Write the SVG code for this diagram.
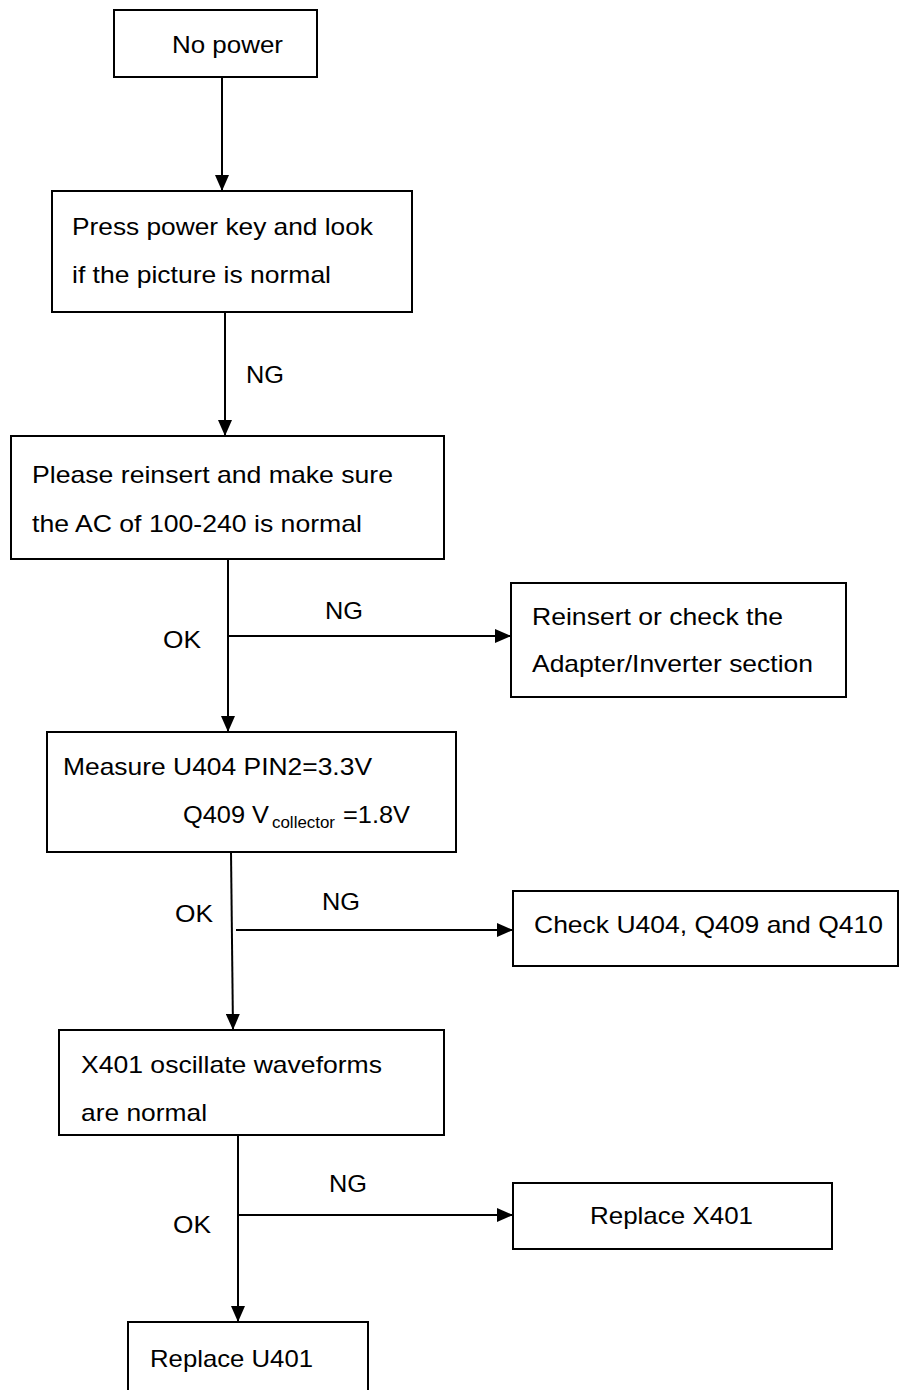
<svg xmlns="http://www.w3.org/2000/svg" width="899" height="1390" viewBox="0 0 899 1390">
<defs>
<marker id="ah" markerUnits="userSpaceOnUse" markerWidth="16" markerHeight="14" refX="16" refY="7" orient="auto">
<path d="M0,0 L16,7 L0,14 Z" fill="#000"/>
</marker>
<style>
.box{fill:#fff;stroke:#000;stroke-width:2}
.ln{fill:none;stroke:#000;stroke-width:2}
.t{font-family:"Liberation Sans",Arial,sans-serif;font-size:24px;fill:#000}
.s{font-family:"Liberation Sans",Arial,sans-serif;font-size:16px;fill:#000}
</style>
</defs>
<rect width="899" height="1390" fill="#fff"/>
<g id="connectors">
<line class="ln" x1="222" y1="77" x2="222" y2="191" marker-end="url(#ah)"/>
<line class="ln" x1="225" y1="312" x2="225" y2="436" marker-end="url(#ah)"/>
<line class="ln" x1="228" y1="559" x2="228" y2="732" marker-end="url(#ah)"/>
<line class="ln" x1="228" y1="636" x2="511" y2="636" marker-end="url(#ah)"/>
<line class="ln" x1="231" y1="852" x2="233" y2="1030" marker-end="url(#ah)"/>
<line class="ln" x1="236" y1="930" x2="513" y2="930" marker-end="url(#ah)"/>
<line class="ln" x1="238" y1="1135" x2="238" y2="1322" marker-end="url(#ah)"/>
<line class="ln" x1="238" y1="1215" x2="513" y2="1215" marker-end="url(#ah)"/>
<text class="t" x="246" y="383" textLength="38" lengthAdjust="spacingAndGlyphs">NG</text>
<text class="t" x="325" y="619" textLength="38" lengthAdjust="spacingAndGlyphs">NG</text>
<text class="t" x="163" y="648" textLength="38" lengthAdjust="spacingAndGlyphs">OK</text>
<text class="t" x="322" y="910" textLength="38" lengthAdjust="spacingAndGlyphs">NG</text>
<text class="t" x="175" y="922" textLength="38" lengthAdjust="spacingAndGlyphs">OK</text>
<text class="t" x="329" y="1192" textLength="38" lengthAdjust="spacingAndGlyphs">NG</text>
<text class="t" x="173" y="1233" textLength="38" lengthAdjust="spacingAndGlyphs">OK</text>
</g>
<g id="n1">
<rect class="box" x="114" y="10" width="203" height="67"/>
<text class="t" x="172" y="53" textLength="111" lengthAdjust="spacingAndGlyphs">No power</text>
</g>
<g id="n2">
<rect class="box" x="52" y="191" width="360" height="121"/>
<text class="t" x="72" y="235" textLength="301" lengthAdjust="spacingAndGlyphs">Press power key and look</text>
<text class="t" x="72" y="283" textLength="259" lengthAdjust="spacingAndGlyphs">if the picture is normal</text>
</g>
<g id="n3">
<rect class="box" x="11" y="436" width="433" height="123"/>
<text class="t" x="32" y="483" textLength="361" lengthAdjust="spacingAndGlyphs">Please reinsert and make sure</text>
<text class="t" x="32" y="532" textLength="330" lengthAdjust="spacingAndGlyphs">the AC of 100-240 is normal</text>
</g>
<g id="n4">
<rect class="box" x="511" y="583" width="335" height="114"/>
<text class="t" x="532" y="625" textLength="251" lengthAdjust="spacingAndGlyphs">Reinsert or check the</text>
<text class="t" x="532" y="672" textLength="281" lengthAdjust="spacingAndGlyphs">Adapter/Inverter section</text>
</g>
<g id="n5">
<rect class="box" x="47" y="732" width="409" height="120"/>
<text class="t" x="63" y="775" textLength="309" lengthAdjust="spacingAndGlyphs">Measure U404 PIN2=3.3V</text>
<text class="t" x="183" y="823" textLength="86" lengthAdjust="spacingAndGlyphs">Q409 V</text>
<text class="s" x="272" y="828" textLength="63" lengthAdjust="spacingAndGlyphs">collector</text>
<text class="t" x="343" y="823" textLength="67" lengthAdjust="spacingAndGlyphs">=1.8V</text>
</g>
<g id="n6">
<rect class="box" x="513" y="891" width="385" height="75"/>
<text class="t" x="534" y="933" textLength="349" lengthAdjust="spacingAndGlyphs">Check U404, Q409 and Q410</text>
</g>
<g id="n7">
<rect class="box" x="59" y="1030" width="385" height="105"/>
<text class="t" x="81" y="1073" textLength="301" lengthAdjust="spacingAndGlyphs">X401 oscillate waveforms</text>
<text class="t" x="81" y="1121" textLength="126" lengthAdjust="spacingAndGlyphs">are normal</text>
</g>
<g id="n8">
<rect class="box" x="513" y="1183" width="319" height="66"/>
<text class="t" x="590" y="1224" textLength="163" lengthAdjust="spacingAndGlyphs">Replace X401</text>
</g>
<g id="n9">
<rect class="box" x="128" y="1322" width="240" height="80"/>
<text class="t" x="150" y="1367" textLength="163" lengthAdjust="spacingAndGlyphs">Replace U401</text>
</g>
</svg>
